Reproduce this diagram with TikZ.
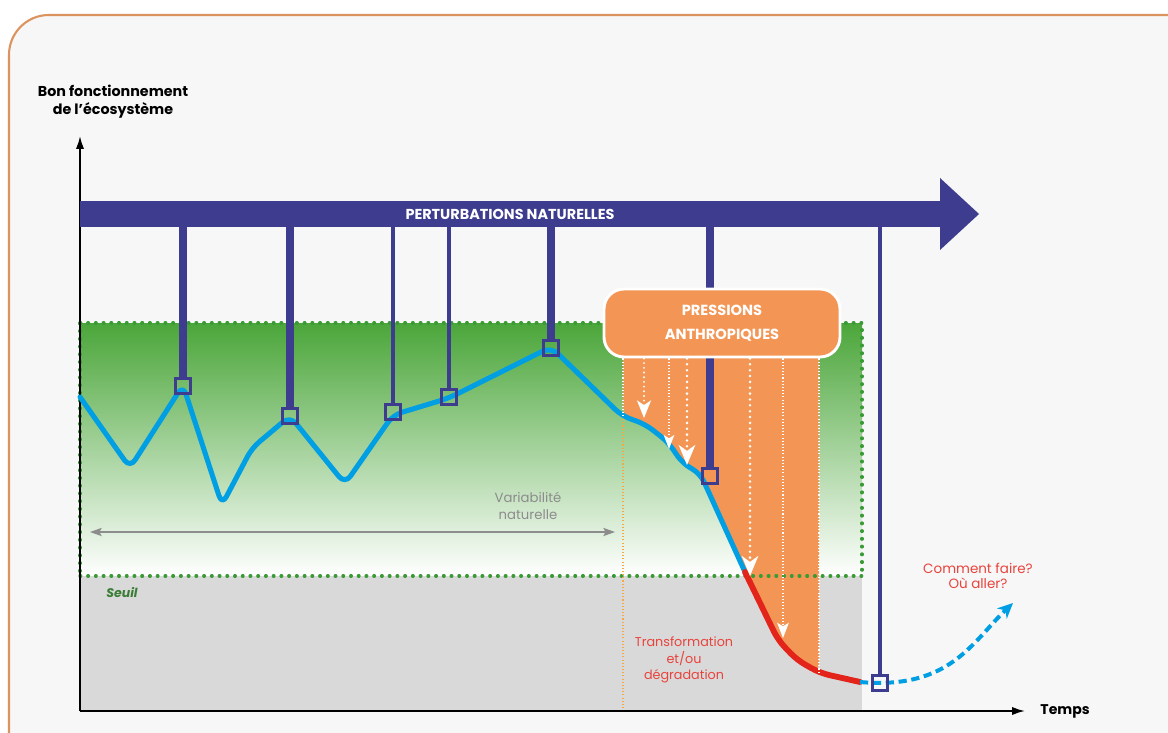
\documentclass[tikz,border=0pt]{standalone}
\usepackage{fontspec}
\setmainfont{Poppins}
\usetikzlibrary{arrows.meta, positioning}

\definecolor{navy}{HTML}{3D3C8E}
\definecolor{curveblue}{HTML}{009FE3}
\definecolor{curvered}{HTML}{E3241B}
\definecolor{txtred}{HTML}{E8433C}
\definecolor{pressorange}{HTML}{F39655}
\definecolor{lineorange}{HTML}{F6A843}
\definecolor{greentop}{HTML}{4BA63A}
\definecolor{greendot}{HTML}{3A9A35}
\definecolor{seuilgreen}{HTML}{3A7D35}
\definecolor{zonegray}{HTML}{D9D9D9}
\definecolor{bggray}{HTML}{F7F7F7}
\definecolor{frame}{HTML}{DB9460}
\definecolor{vargray}{HTML}{8C8C8C}

\begin{document}
\begin{tikzpicture}[x=0.03cm,y=-0.03cm,
  lbl/.style={align=center, inner sep=0pt},
  band/.style={fill=navy, text=white, inner sep=0pt, outer sep=0pt,
    minimum width=25.8cm, minimum height=0.78cm,
    font=\fontsize{12.3}{14}\selectfont\bfseries},
  fatdrop/.style={navy, line width=6pt},
  slimdrop/.style={navy, line width=3.4pt},
  sq/.style={draw=navy, line width=2.5pt, minimum size=0.45cm, inner sep=0pt},
  pressbox/.style={fill=pressorange, draw=white, line width=2.5pt, rounded corners=17pt,
    minimum width=7.08cm, minimum height=2.04cm, align=center, text=white,
    font=\fontsize{12.5}{20.5}\selectfont\bfseries},
  gdots/.style={greendot, line width=2.8pt, line cap=round, dash pattern=on 0.6pt off 6pt},
  wthin/.style={white, line width=0.9pt, dash pattern=on 0.9pt off 1.8pt},
  wthick/.style={white, line width=2.4pt, line cap=round, dash pattern=on 0pt off 5pt},
  axis/.style={black, line width=1.5pt, -{Latex[length=11pt,width=7pt]}},
  curve/.style={line width=4.3pt, rounded corners=8pt, line cap=round, line join=round}
]
  \useasboundingbox (0,0) rectangle (1168,733);
  % background and frame
  \fill[white] (0,0) rectangle (1168,733);
  \filldraw[fill=bggray, draw=frame, line width=1.8pt, rounded corners=34pt]
    (9,15) rectangle (1220,780);

  % zones
  \shade[top color=greentop, middle color=greentop!42!white, bottom color=white]
    (80,323) rectangle (862,576);
  \fill[zonegray] (80,576) rectangle (862,711);
  \fill[pressorange, rounded corners=8pt] (623,350) -- (819,350) -- (819,673)
    -- (797,660) -- (778,640) -- (745,572) -- (700,473) -- (683,464)
    -- (668,442) -- (645,424) -- (623,416) -- cycle;
  \draw[gdots] (80,323) -- (862,323) -- (862,576);
  \draw[gdots] (80,576) -- (862,576);
  \draw[gdots] (80,323) -- (80,576);
  \draw[lineorange, line width=0.9pt, dash pattern=on 0.9pt off 1.8pt] (623,416) -- (623,711);

  % axes
  \coordinate (o) at (80,711);
  \coordinate (ytop) at (80,136);
  \coordinate (xend) at (1025,711);
  \draw[axis] (o) -- (ytop);
  \draw[axis] (o) -- (xend);
  \node[lbl, font=\fontsize{12.2}{15.5}\selectfont\bfseries] (ylab) at (113,102)
    {Bon fonctionnement\\de l’écosystème};
  \node[lbl, font=\fontsize{12}{14}\selectfont\bfseries, right=13pt of xend] (temps) {Temps};

  % natural variability
  \coordinate (va) at (90,532);
  \coordinate (vb) at (615,532);
  \draw[vargray, line width=1.3pt, {Stealth[length=10pt,width=7pt,inset=2pt]}-{Stealth[length=10pt,width=7pt,inset=2pt]}] (va) -- (vb);
  \node[lbl, text=vargray, font=\fontsize{11.3}{14.5}\selectfont] (var) at (528,506)
    {Variabilité\\naturelle};
  \node[lbl, text=seuilgreen, font=\fontsize{10.7}{12}\selectfont\bfseries\itshape] (seuil) at (122,593) {Seuil};

  % ecosystem curve
  \draw[curve, curveblue] (80,397) -- (130,468) -- (183,385) -- (222,505)
    -- (252,448) -- (290,416) -- (345,484) -- (393,415) -- (449,398)
    -- (551,347) -- (622,416) -- (645,424) -- (668,442) -- (683,464)
    -- (700,473) -- (745,572);
  \draw[curve, curvered, line width=5pt] (745,572) -- (778,640) -- (797,660)
    -- (820,673) -- (860,682);
  \coordinate (fut) at (1013,603);
  \draw[curveblue, line width=3.4pt, dash pattern=on 7pt off 4pt,
    -{Stealth[length=13pt,width=12pt,inset=4pt]}]
    (860,682) .. controls (950,690) and (972,642) .. (fut);

  % natural disturbances
  \node[band] (pert) at (510,214) {PERTURBATIONS NATURELLES};
  \fill[navy] (pert.north east) -- ++(0,-23) -- ++(39,36) -- ++(-39,36) -- ++(0,-23) -- cycle;
  \node[sq] (s1) at (183,386) {};
  \node[sq] (s2) at (290,416) {};
  \node[sq] (s3) at (393,412) {};
  \node[sq] (s4) at (449,397) {};
  \node[sq] (s5) at (551,348) {};
  \node[sq] (s6) at (710,476) {};
  \node[sq] (s7) at (880,683) {};
  \draw[fatdrop] (pert.south -| s1) -- (s1.north);
  \draw[fatdrop] (pert.south -| s2) -- (s2.north);
  \draw[slimdrop] (pert.south -| s3) -- (s3.north);
  \draw[slimdrop] (pert.south -| s4) -- (s4.north);
  \draw[fatdrop] (pert.south -| s5) -- (s5.north);
  \draw[fatdrop] (pert.south -| s6) -- (s6.north);
  \draw[slimdrop] (pert.south -| s7) -- (s7.north);

  % human pressures
  \node[pressbox] (box) at (722,323) {PRESSIONS\\ANTHROPIQUES};
  \coordinate (a1) at (644,418);
  \coordinate (a2) at (669,449);
  \coordinate (a3) at (687,465);
  \coordinate (a4) at (750,576);
  \coordinate (a5) at (783,638);
  \coordinate (pl) at (623,416);
  \coordinate (pr) at (819,672);
  \draw[wthin] (box.south -| pl) -- (pl);
  \draw[wthin] (box.south -| pr) -- (pr);
  \draw[wthick, line width=1.8pt, dash pattern=on 0pt off 4pt, -{Stealth[length=15pt,width=12pt,inset=4pt]}] (box.south -| a1) -- (a1);
  \draw[wthin, -{Stealth[length=12pt,width=9pt,inset=3pt]}] (box.south -| a2) -- (a2);
  \draw[wthick, -{Stealth[length=17pt,width=14pt,inset=5pt]}] (box.south -| a3) -- (a3);
  \draw[wthick, -{Stealth[length=17pt,width=14pt,inset=5pt]}] (box.south -| a4) -- (a4);
  \draw[wthin, -{Stealth[length=13pt,width=10pt,inset=3pt]}] (box.south -| a5) -- (a5);

  % outcome labels
  \node[lbl, text=txtred, font=\fontsize{10.9}{14}\selectfont] (trans) at (684,660)
    {Transformation\\et/ou\\dégradation};
  \node[lbl, text=txtred, font=\fontsize{11.5}{13.5}\selectfont] (quest) at (978,576)
    {Comment faire?\\Où aller?};
\end{tikzpicture}
\end{document}
